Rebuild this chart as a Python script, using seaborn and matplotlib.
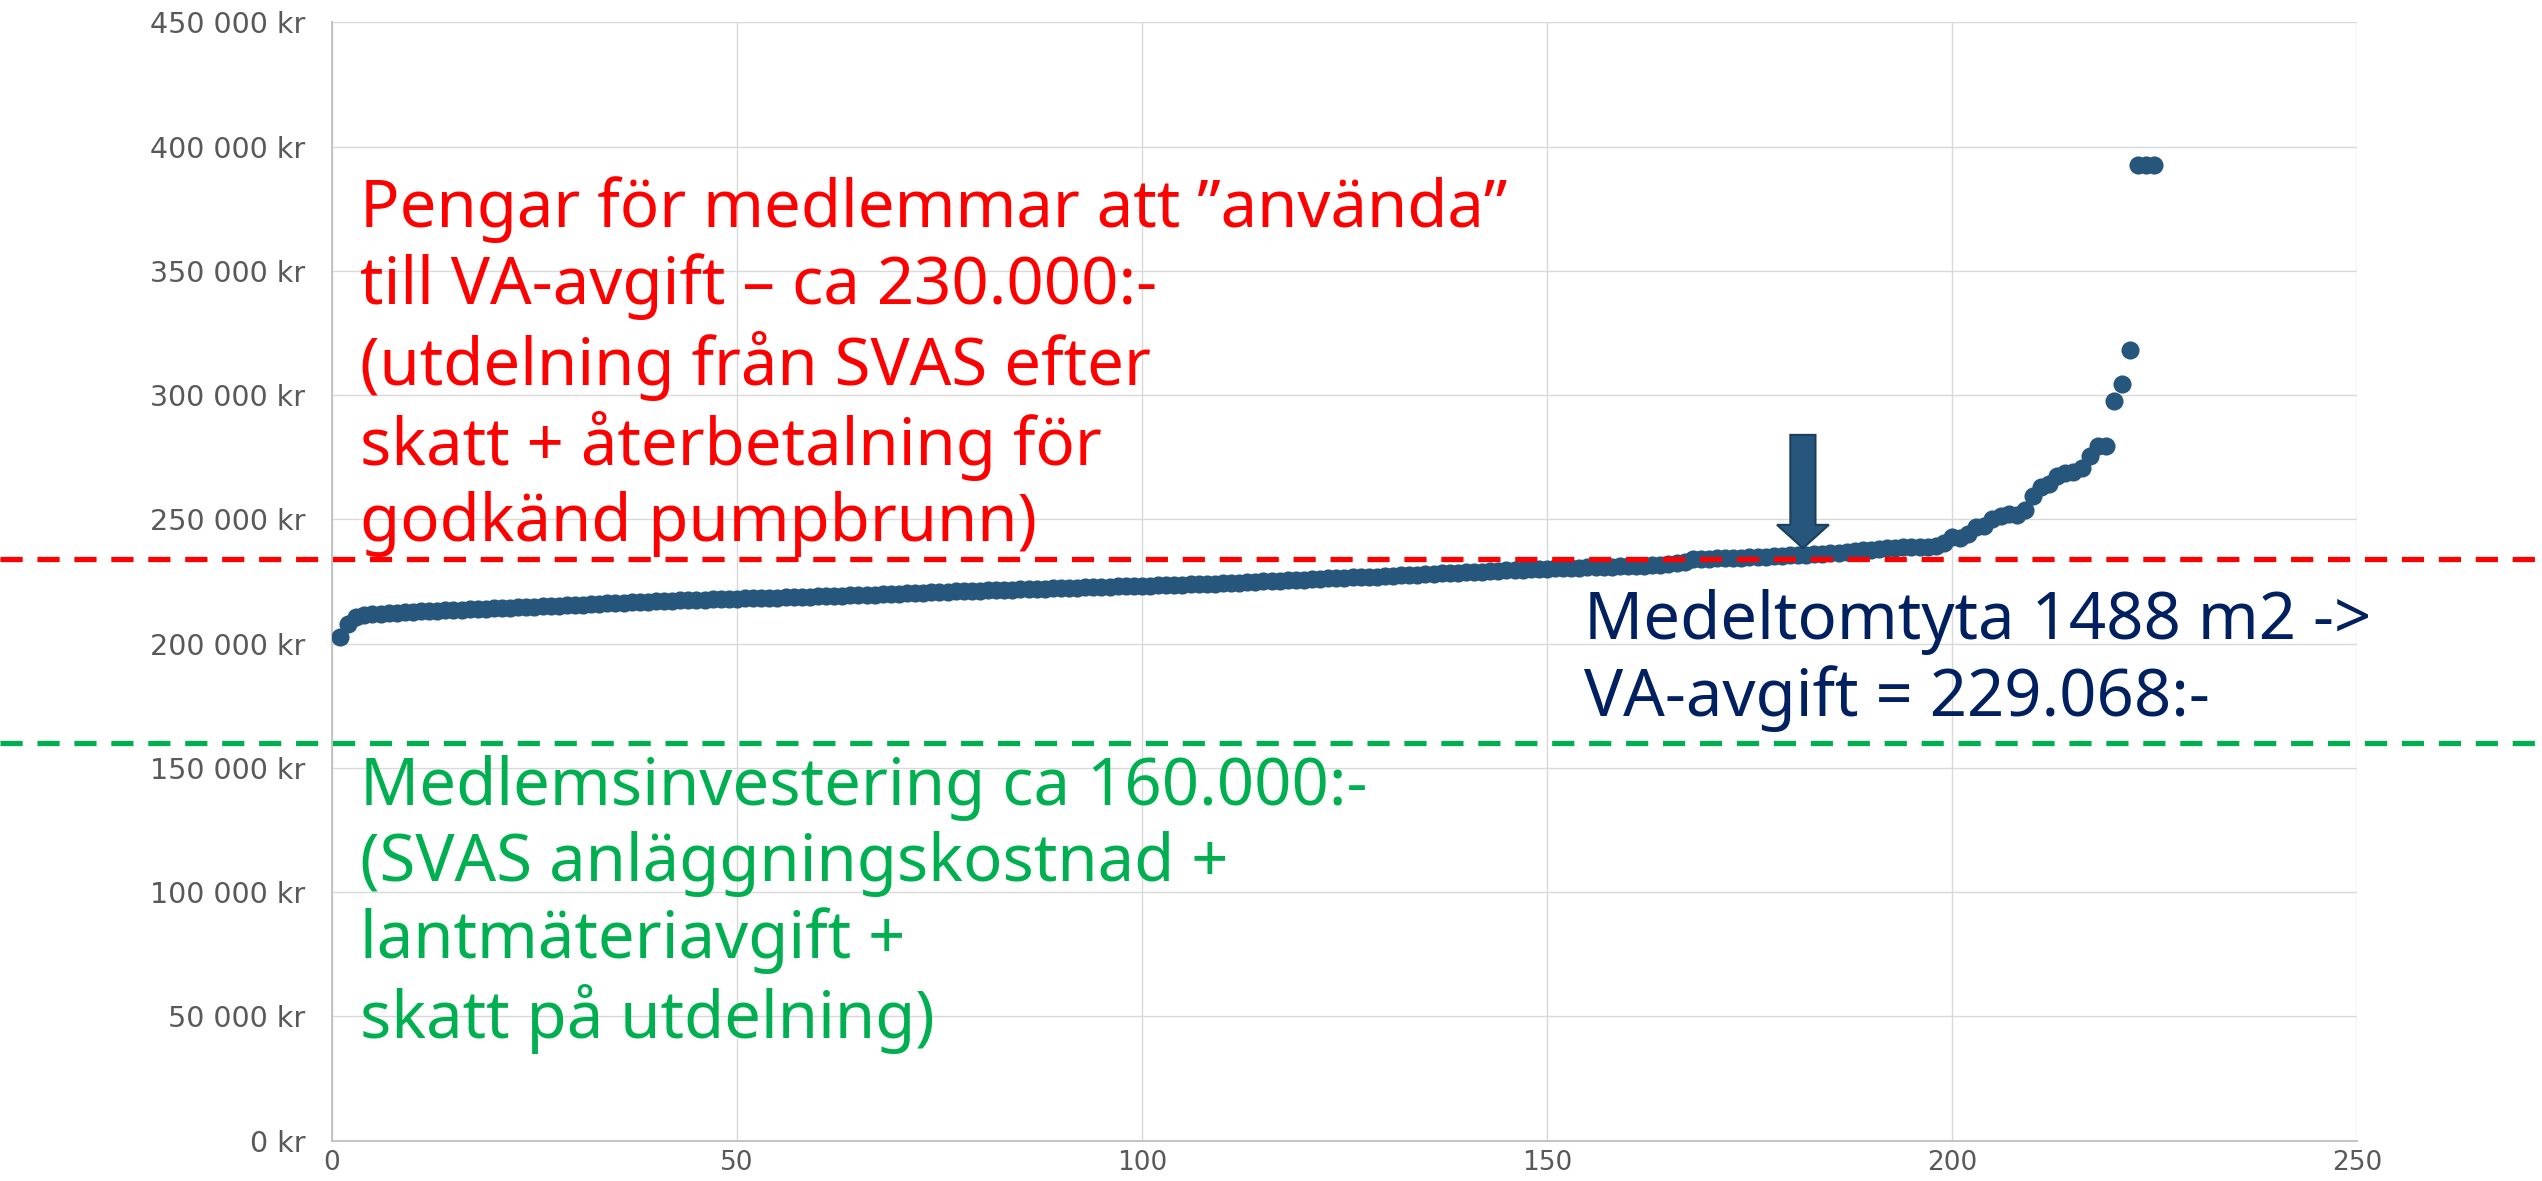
import numpy as np
import pandas as pd
import matplotlib
matplotlib.use("Agg")
import matplotlib.pyplot as plt
import seaborn as sns
from matplotlib.ticker import FuncFormatter, MultipleLocator

# VA-avgift per tomt, sorterad (tusen kr)
fee_tkr = [
    202.6, 207.8, 210.6, 211.5, 211.8, 212.0, 212.2, 212.4, 212.6, 212.8,
    213.0, 213.1, 213.3, 213.4, 213.6, 213.7, 213.8, 214.0, 214.1, 214.2,
    214.3, 214.4, 214.6, 214.7, 214.9, 215.0, 215.2, 215.3, 215.5, 215.6,
    215.7, 215.9, 216.0, 216.2, 216.3, 216.5, 216.7, 216.8, 216.9, 217.0,
    217.2, 217.3, 217.4, 217.5, 217.6, 217.7, 217.8, 217.9, 218.0, 218.1,
    218.2, 218.3, 218.3, 218.4, 218.5, 218.6, 218.7, 218.8, 218.9, 219.0,
    219.1, 219.2, 219.3, 219.4, 219.5, 219.6, 219.7, 219.8, 219.9, 220.1,
    220.2, 220.4, 220.5, 220.7, 220.8, 220.9, 221.0, 221.1, 221.2, 221.3,
    221.4, 221.5, 221.6, 221.7, 221.8, 221.9, 222.0, 222.1, 222.2, 222.3,
    222.4, 222.5, 222.6, 222.7, 222.8, 222.9, 223.0, 223.1, 223.2, 223.3,
    223.4, 223.5, 223.6, 223.7, 223.8, 223.9, 224.0, 224.1, 224.2, 224.3,
    224.5, 224.6, 224.8, 224.9, 225.1, 225.2, 225.4, 225.5, 225.7, 225.8,
    226.0, 226.1, 226.3, 226.5, 226.6, 226.7, 226.8, 226.9, 227.0, 227.2,
    227.3, 227.5, 227.6, 227.8, 227.9, 228.1, 228.3, 228.4, 228.6, 228.7,
    228.9, 229.0, 229.2, 229.3, 229.5, 229.6, 229.8, 229.9, 230.1, 230.2,
    230.3, 230.4, 230.5, 230.6, 230.7, 230.8, 230.9, 231.0, 231.1, 231.2,
    231.3, 231.4, 231.6, 231.8, 232.0, 232.3, 233.0, 234.0, 234.1, 234.2,
    234.3, 234.4, 234.5, 234.6, 234.7, 234.9, 235.0, 235.2, 235.3, 235.5,
    235.6, 235.7, 235.9, 236.1, 236.3, 236.6, 236.9, 237.2, 237.5, 237.8,
    238.1, 238.4, 238.6, 238.8, 238.9, 238.9, 239.0, 239.1, 240.6, 242.9,
    242.7, 244.3, 246.9, 247.4, 250.3, 251.2, 252.0, 251.7, 253.7, 259.4,
    263.1, 264.2, 267.4, 268.8, 268.9, 270.5, 275.5, 279.6, 279.6, 297.6,
    304.3, 318.1, 392.5, 392.5, 392.5,
]

money_for_members = 234000   # ca 230.000:- (röd linje)
member_investment = 160000   # ca 160.000:- (grön linje)

red_text = ("Pengar för medlemmar att \u201danvända\u201d\n"
            "till VA-avgift \u2013 ca 230.000:-\n"
            "(utdelning från SVAS efter\n"
            "skatt + återbetalning för\n"
            "godkänd pumpbrunn)")
navy_text = "Medeltomtyta 1488 m2 ->\nVA-avgift = 229.068:-"
green_text = ("Medlemsinvestering ca 160.000:-\n"
              "(SVAS anläggningskostnad +\n"
              "lantmäteriavgift +\n"
              "skatt på utdelning)")

df = pd.DataFrame({"tomt": np.arange(1, len(fee_tkr) + 1),
                   "avgift": np.array(fee_tkr) * 1000})

sns.set_theme(style="white")
plt.rcParams["font.family"] = ["DejaVu Sans"]

fig = plt.figure(figsize=(25.42, 11.81), dpi=100)
ax = fig.add_axes([0.1306, 0.0341, 0.7966, 0.9470])

point_col = "#27567d"
sns.scatterplot(data=df, x="tomt", y="avgift", ax=ax, s=170,
                color=point_col, edgecolor=point_col, linewidth=0, zorder=3)

ax.set_xlim(0, 250)
ax.set_ylim(0, 450000)
ax.xaxis.set_major_locator(MultipleLocator(50))
ax.yaxis.set_major_locator(MultipleLocator(50000))
ax.yaxis.set_major_formatter(FuncFormatter(lambda v, _: f"{int(v):,} kr".replace(",", " ")))
ax.set_xlabel("")
ax.set_ylabel("")
ax.grid(True, color="#d9d9d9", lw=1.0, zorder=0)
ax.set_axisbelow(True)
for side in ["top", "right"]:
    ax.spines[side].set_visible(False)
for side in ["left", "bottom"]:
    ax.spines[side].set_color("#bfbfbf")
    ax.spines[side].set_linewidth(1.3)
ax.tick_params(axis="y", length=0, pad=19, labelsize=20.5, labelcolor="#595959")
ax.tick_params(axis="x", length=0, pad=7, labelsize=19, labelcolor="#595959")

# streckade nivålinjer över hela bilden
dash = (0, (4.2, 2.8))
ax.axhline(money_for_members, xmin=-0.164, xmax=1.0914, clip_on=False,
           color="#ff0000", lw=3.8, ls=dash, zorder=6)
ax.axhline(member_investment, xmin=-0.164, xmax=1.0914, clip_on=False,
           color="#00b050", lw=3.8, ls=dash, zorder=6)

# pil mot medeltomten
ax.arrow(181.6, 284000, 0, -45600, width=3.1, head_width=6.4, head_length=9400,
         length_includes_head=True, fc=point_col, ec="#1d3f5e", lw=1.5, zorder=7)

txt_font = ["Noto Sans", "DejaVu Sans"]
fig.text(0.1416, 0.851, red_text, color="#ff0000", fontsize=47,
         family=txt_font, va="top", ha="left", linespacing=1.2)
fig.text(0.623, 0.501, navy_text, color="#002060", fontsize=47,
         family=txt_font, va="top", ha="left", linespacing=1.2)
fig.text(0.1416, 0.361, green_text, color="#00b050", fontsize=47,
         family=txt_font, va="top", ha="left", linespacing=1.2)

fig.savefig("out.png", dpi=100)
